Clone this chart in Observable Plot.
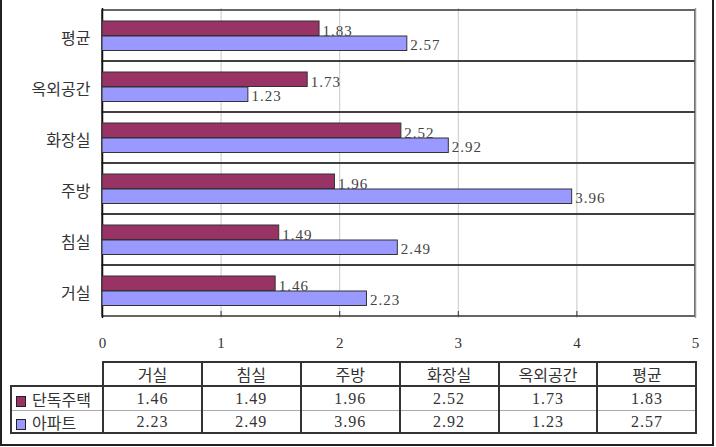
<!DOCTYPE html>
<html><head><meta charset="utf-8">
<script src="https://cdn.jsdelivr.net/npm/d3@7"></script>
<script src="https://cdn.jsdelivr.net/npm/@observablehq/plot@0.6"></script>
<style>
body{margin:0;background:#fff;}
#wrap{position:relative;width:716px;height:447px;overflow:hidden;background:#fff;}
#border{position:absolute;left:0;top:-3px;width:714px;height:449px;box-sizing:border-box;border:2px solid #222;pointer-events:none;}
#chart{position:absolute;left:0;top:0;}
#tbl{position:absolute;left:10px;top:361px;border-collapse:collapse;table-layout:fixed;width:686px;
  font-family:'Noto Sans CJK KR',sans-serif;font-size:16px;color:#333;}
#tbl td{border:2px solid #333;text-align:center;padding:0;line-height:20px;}
#tbl td.num{font-family:'Liberation Serif',serif;font-size:16px;letter-spacing:1px;}
#tbl tr.h td{height:22px;}
#tbl tr.r1 td{height:23px;border-bottom:1px solid #aaa;}
#tbl tr.r2 td{height:21px;border-top:1px solid #aaa;}
#tbl td.blank{border-top:none;border-left:none;}
#tbl td.leg{text-align:left;padding-left:4px;white-space:nowrap;}
.sw{display:inline-block;width:8px;height:9px;border:1px solid #222;margin-right:6px;vertical-align:-1px;}
</style></head>
<body><div id="wrap"><div id="chart"></div><table id="tbl"></table><div id="border"></div></div>
<script>
const categories = ["거실","침실","주방","화장실","옥외공간","평균"];
const series = ["단독주택","아파트"];
const detached = [1.46,1.49,1.96,2.52,1.73,1.83];
const apartment = [2.23,2.49,3.96,2.92,1.23,2.57];
const xTicks = [0,1,2,3,4,5];
const colors = ["#993366","#9999ff"];

const rowsD = categories.map((c,i)=>({cat:c, value:detached[i]}));
const rowsA = categories.map((c,i)=>({cat:c, value:apartment[i]}));
const yDomain = categories.slice().reverse();
const numFont = "'Liberation Serif', serif";
const inner = xTicks.slice(1,-1);

const chart = Plot.plot({
  width:716, height:356, marginLeft:102, marginRight:21, marginTop:8, marginBottom:38,
  style:{fontFamily:"'Noto Sans CJK KR', sans-serif", fontSize:"16px", color:"#333", background:"transparent"},
  x:{domain:[xTicks[0], xTicks[xTicks.length-1]], label:null},
  y:{domain:yDomain, padding:0, label:null},
  marks:[
    Plot.ruleX(inner, {stroke:"#c8c8c8"}),
    Plot.barX(categories, {y:d=>d, x1:()=>xTicks[0], x2:()=>xTicks[xTicks.length-1], fill:"none", stroke:"#333", strokeWidth:1.5}),
    Plot.ruleX([xTicks[xTicks.length-1]], {stroke:"#999", strokeWidth:1.5}),
    Plot.ruleX([xTicks[0]], {stroke:"#111", strokeWidth:1.5}),
    Plot.tickX(inner, {x:d=>d, y:()=>categories[0], insetTop:46, stroke:"#333"}),
    Plot.barX(rowsD, {y:"cat", x:"value", fill:colors[0], stroke:"#333", insetTop:11, insetBottom:25.5}),
    Plot.barX(rowsA, {y:"cat", x:"value", fill:colors[1], stroke:"#333", insetTop:26, insetBottom:10.5}),
    Plot.text(rowsD, {y:"cat", x:"value", text:d=>d.value.toFixed(2), textAnchor:"start", dx:3, dy:-5, fontFamily:numFont, fontSize:15, fill:"#444"}),
    Plot.text(rowsA, {y:"cat", x:"value", text:d=>d.value.toFixed(2), textAnchor:"start", dx:3, dy:9, fontFamily:numFont, fontSize:15, fill:"#444"}),
    Plot.axisY({tickSize:0, tickPadding:12, dy:3, fontSize:16, fill:"#333", label:null}),
    Plot.axisX({ticks:xTicks, tickSize:0, tickPadding:19, fontFamily:numFont, fontSize:15, fill:"#333", tickFormat:d=>String(d), label:null})
  ]
});
document.getElementById("chart").appendChild(chart);
chart.querySelectorAll("text").forEach(t=>{ if(/^\d\.\d\d$/.test(t.textContent)) t.setAttribute("letter-spacing","1"); });

const tbl = document.getElementById("tbl");
const colg = document.createElement("colgroup");
[92, ...categories.map(()=>98.9)].forEach(w=>{const c=document.createElement("col");c.style.width=w+"px";colg.appendChild(c);});
tbl.appendChild(colg);
const hr = document.createElement("tr"); hr.className="h";
const b = document.createElement("td"); b.className="blank"; hr.appendChild(b);
categories.forEach(c=>{const td=document.createElement("td");td.textContent=c;hr.appendChild(td);});
tbl.appendChild(hr);
[detached, apartment].forEach((vals,si)=>{
  const tr=document.createElement("tr"); tr.className = si===0?"r1":"r2";
  const lg=document.createElement("td"); lg.className="leg";
  const sw=document.createElement("span"); sw.className="sw"; sw.style.background=colors[si];
  lg.appendChild(sw); lg.appendChild(document.createTextNode(series[si]));
  tr.appendChild(lg);
  vals.forEach(v=>{const td=document.createElement("td");td.className="num";td.textContent=v.toFixed(2);tr.appendChild(td);});
  tbl.appendChild(tr);
});
</script></body></html>
